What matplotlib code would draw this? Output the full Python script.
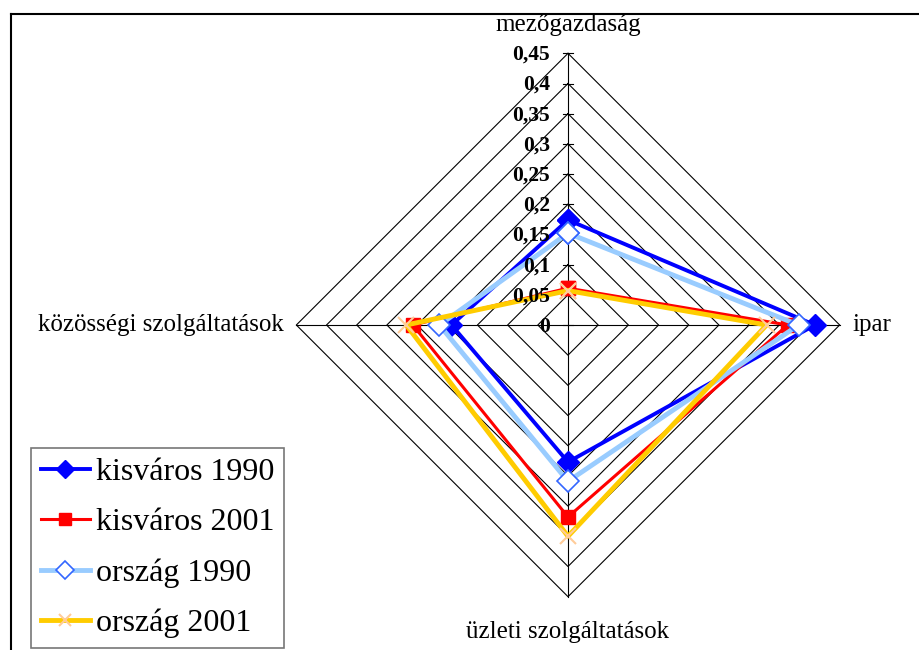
import matplotlib
matplotlib.use("Agg")
import matplotlib.pyplot as plt
import numpy as np

categories = ["mezőgazdaság", "ipar", "üzleti szolgáltatások", "közösségi szolgáltatások"]
kisvaros_1990 = [0.174, 0.409, 0.227, 0.193]
kisvaros_2001 = [0.061, 0.364, 0.318, 0.257]
orszag_1990 = [0.152, 0.382, 0.259, 0.213]
orszag_2001 = [0.057, 0.329, 0.350, 0.268]
levels = [0.0, 0.05, 0.1, 0.15, 0.2, 0.25, 0.3, 0.35, 0.4, 0.45]
level_labels = ["0", "0,05", "0,1", "0,15", "0,2", "0,25", "0,3", "0,35", "0,4", "0,45"]

plt.rcParams['font.family'] = ['Liberation Serif', 'DejaVu Serif']

# angles clockwise from top
angles = np.arange(len(categories)) * 2 * np.pi / len(categories)


def to_xy(vals):
    v = np.append(vals, vals[0])
    a = np.append(angles, angles[0])
    return v * np.sin(a), v * np.cos(a)


fig = plt.figure(figsize=(9.19, 6.5), dpi=100)
ax = fig.add_axes([0, 0, 1, 1])
scale = 603.7  # px per unit
ax.set_xlim(-568 / scale, (919 - 568) / scale)
ax.set_ylim(-325 / scale, 325 / scale)
ax.axis("off")

# outer frame (only top and left visible)
fig.add_artist(plt.Line2D([11 / 919, 11 / 919], [0, 1 - 14 / 650], color="black", lw=1.5))
fig.add_artist(plt.Line2D([11 / 919, 1], [1 - 14 / 650, 1 - 14 / 650], color="black", lw=1.5))

# grid
for lv in levels[1:]:
    gx, gy = to_xy([lv] * len(categories))
    ax.plot(gx, gy, color="black", lw=0.8, zorder=1)
rmax = levels[-1]
for a in angles:
    ax.plot([0, rmax * np.sin(a)], [0, rmax * np.cos(a)], color="black", lw=0.8, zorder=1)
tick = 5 / scale
for lv, lab in zip(levels, level_labels):
    ax.plot([-tick, tick], [lv, lv], color="black", lw=0.8, zorder=1)
    ax.text(-18 / scale, lv - 1.5 / scale, lab, ha="right", va="center", fontsize=15.5,
            fontweight="bold", zorder=5)

# category labels
ax.text(0, rmax + 17 / scale, categories[0], ha="center", va="bottom", fontsize=18)
ax.text(rmax + 13 / scale, 0, categories[1], ha="left", va="center", fontsize=18)
ax.text(0, -rmax - 24 / scale, categories[2], ha="center", va="top", fontsize=18)
ax.text(-rmax - 13 / scale, 0, categories[3], ha="right", va="center", fontsize=18)

x, y = to_xy(kisvaros_1990)
ax.plot(x, y, color="#0000FF", lw=2.8, marker="D", ms=11, mfc="#0000FF", mec="#0000FF",
        label="kisváros 1990", zorder=3)
x, y = to_xy(kisvaros_2001)
ax.plot(x, y, color="#FF0000", lw=2.2, marker="s", ms=10, mfc="#FF0000", mec="#FF0000",
        label="kisváros 2001", zorder=3)
x, y = to_xy(orszag_1990)
ax.plot(x, y, color="#99CCFF", lw=3.5, marker="D", ms=11, mfc="white", mec="#3366FF",
        mew=1.2, label="ország 1990", zorder=3)
x, y = to_xy(orszag_2001)
ax.plot(x, y, color="#FFCC00", lw=3.5, marker="x", ms=11, mec="#FFCC99", mew=1.5,
        label="ország 2001", zorder=3)

leg = ax.legend(loc="lower left", bbox_to_anchor=(31 / 919, 2 / 650),
                bbox_transform=fig.transFigure, fontsize=23, frameon=True,
                fancybox=False, edgecolor="#555555", borderaxespad=0,
                handlelength=1.55, handletextpad=0.2, labelspacing=0.66,
                borderpad=0.3, numpoints=1, markerscale=0.8)
leg.get_frame().set_linewidth(1.2)

fig.savefig("out.png", dpi=100)
